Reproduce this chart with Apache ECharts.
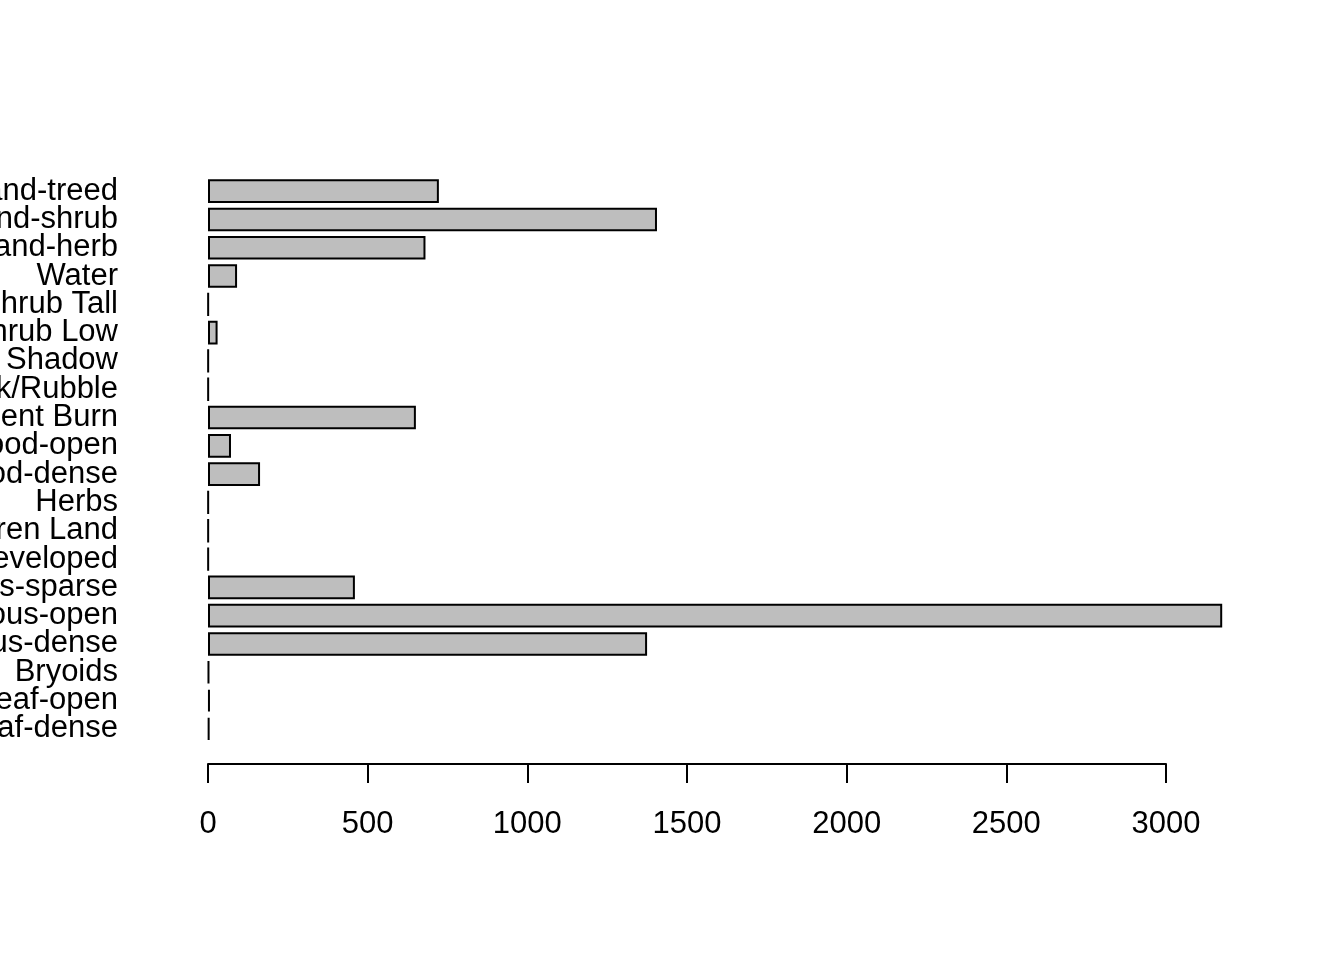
<!DOCTYPE html>
<html>
<head>
<meta charset="utf-8">
<script src="https://cdn.jsdelivr.net/npm/echarts@6/dist/echarts.min.js"></script>
<style>
  html, body { margin: 0; padding: 0; background: #fff; }
  #chart { width: 1344px; height: 960px; }
</style>
</head>
<body>
<div id="chart"></div>
<script>
// categories, bottom to top (R barplot horiz order)
const classes = [
  'Broadleaf-dense', 'Broadleaf-open', 'Bryoids', 'Coniferous-dense',
  'Coniferous-open', 'Coniferous-sparse', 'Developed', 'Exposed/Barren Land',
  'Herbs', 'Mixedwood-dense', 'Mixedwood-open', 'Recent Burn',
  'Rock/Rubble', 'Shadow', 'Shrub Low', 'Shrub Tall', 'Water',
  'Wetland-herb', 'Wetland-shrub', 'Wetland-treed'
]
const counts = [
  4, 6, 3, 1375,
  3176, 460, 1, 1,
  1, 163, 72, 651,
  1, 1, 30, 1, 91,
  681, 1406, 723
]
const xTicks = [0, 500, 1000, 1500, 2000, 2500, 3000]

const font = '"Liberation Sans", Arial, sans-serif'
const pxPerUnit = 958 / 3000  // axis 0..3000 spans 958px
const barMax = 3200

const chart = echarts.init(document.getElementById('chart'))

chart.setOption({
  animation: false,
  backgroundColor: '#fff',
  grid: [
    // axis only (R draws the axis from 0 to 3000)
    { left: 208, top: 177, width: 958, height: 587, containLabel: false, outerBoundsMode: 'none' },
    // bars
    { left: 208, top: 177, width: barMax * pxPerUnit, height: 566, containLabel: false, outerBoundsMode: 'none' }
  ],
  xAxis: [
    {
      gridIndex: 0,
      type: 'value',
      min: xTicks[0],
      max: xTicks[xTicks.length - 1],
      interval: 500,
      axisLine: { show: true, lineStyle: { color: '#000', width: 2 } },
      axisTick: { show: true, length: 19, lineStyle: { color: '#000', width: 2 } },
      axisLabel: {
        margin: 45,
        color: '#000',
        fontSize: 31,
        fontFamily: font,
        showMinLabel: true,
        showMaxLabel: true,
        formatter: v => String(v)
      },
      splitLine: { show: false }
    },
    {
      gridIndex: 1,
      type: 'value',
      min: 0,
      max: barMax,
      show: false
    }
  ],
  yAxis: [
    { gridIndex: 0, type: 'value', show: false, min: 0, max: 1 },
    {
      gridIndex: 1,
      type: 'category',
      data: classes,
      axisLine: { show: false },
      axisTick: { show: false },
      axisLabel: {
        margin: 90,
        color: '#000',
        fontSize: 31,
        fontFamily: font,
        padding: [4, 0, 0, 0],
        interval: 0
      }
    }
  ],
  series: [
    {
      type: 'bar',
      xAxisIndex: 1,
      yAxisIndex: 1,
      data: counts,
      barCategoryGap: '16.7%',
      itemStyle: {
        color: '#bebebe',
        borderColor: '#000',
        borderWidth: 2
      }
    }
  ]
})
</script>
</body>
</html>
